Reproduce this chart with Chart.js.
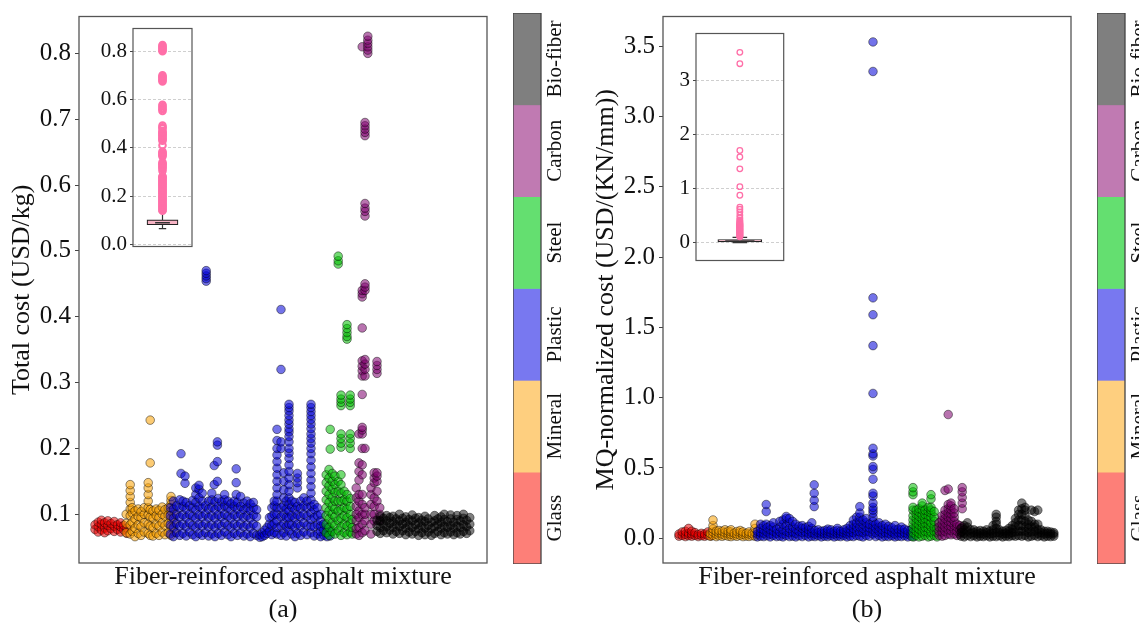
<!DOCTYPE html>
<html>
<head>
<meta charset="utf-8">
<script src="https://cdn.jsdelivr.net/npm/chart.js@4.4.1/dist/chart.umd.min.js"></script>
<style>
  html, body { margin: 0; padding: 0; background: #fff; overflow: hidden; }
  #wrap { position: relative; width: 1139px; height: 624px; }
  canvas { position: absolute; }
  .cbar { transform-origin: 0 0; transform: rotate(-90deg); }
</style>
</head>
<body>
<div id="wrap">
  <canvas id="mainA" width="500" height="624" style="left:0;top:0"></canvas>
  <canvas id="mainB" width="500" height="624" style="left:584px;top:0"></canvas>
  <canvas id="insetA" width="105" height="245" style="left:93px;top:15px"></canvas>
  <canvas id="insetB" width="133" height="254" style="left:656px;top:20px"></canvas>
  <canvas id="cbarA" class="cbar" width="551" height="62" style="left:513px;top:564px"></canvas>
  <canvas id="cbarB" class="cbar" width="551" height="62" style="left:1097px;top:564px"></canvas>
</div>
<script>
// fiber groups (sample order on the x axis)
const fiberTypes = ['Glass', 'Mineral', 'Plastic', 'Steel', 'Carbon', 'Bio-fiber'];
const colorbarColors = ['#fd7f78', '#fecf7f', '#7878f0', '#64df70', '#c07ab2', '#7f7f7f'];
const colorbarSpan = [1, 1, 1, 1, 1, 1];
const pointColors = ['rgba(235,0,0,0.55)', 'rgba(250,160,0,0.55)', 'rgba(0,0,215,0.55)',
                     'rgba(0,190,0,0.55)', 'rgba(125,0,110,0.55)', 'rgba(0,0,0,0.5)'];

// (a) total cost, columns of [sample index, [values]]
const glassCostA = [
  [40, [0.077, 0.084]], [48, [0.073, 0.081, 0.088]], [56, [0.076, 0.085, 0.091]],
  [64, [0.079, 0.087, 0.072]], [72, [0.075, 0.083, 0.09]], [80, [0.078, 0.086]],
  [88, [0.074, 0.082, 0.089]], [96, [0.077, 0.084]], [104, [0.073, 0.081, 0.087]],
  [112, [0.076, 0.083]], [120, [0.071, 0.079]]
];
const mineralCostA = [
  [118, [0.072, 0.086, 0.1]], [128, [0.07, 0.084, 0.098, 0.108, 0.118, 0.127, 0.136, 0.145]],
  [133, [0.074, 0.088, 0.102, 0.11]], [140, [0.066, 0.079, 0.093, 0.105]],
  [148, [0.071, 0.084, 0.097, 0.108]], [155, [0.068, 0.081, 0.095, 0.104]],
  [163, [0.073, 0.087, 0.1, 0.11]], [173, [0.071, 0.085, 0.099, 0.11, 0.12, 0.13, 0.14, 0.148]],
  [178, [0.068, 0.082, 0.096, 0.107, 0.178, 0.243]], [185, [0.067, 0.08, 0.094, 0.105]],
  [193, [0.071, 0.085, 0.098, 0.108]], [200, [0.068, 0.082, 0.095, 0.106]],
  [208, [0.073, 0.087, 0.1, 0.111]], [215, [0.069, 0.083, 0.097, 0.107]],
  [223, [0.072, 0.086, 0.099, 0.11]], [230, [0.068, 0.081, 0.094, 0.105, 0.115, 0.121, 0.127]],
  [238, [0.073, 0.087, 0.1]]
];
const plasticCostA = [
  [228, [0.07, 0.084, 0.098, 0.11]], [236, [0.066, 0.08, 0.094, 0.108, 0.12]],
  [244, [0.072, 0.086, 0.1, 0.113]], [252, [0.068, 0.082, 0.096, 0.11, 0.122]],
  [255, [0.162, 0.192]], [260, [0.071, 0.085, 0.099, 0.112, 0.12]], [265, [0.147, 0.158]],
  [268, [0.067, 0.081, 0.095, 0.108, 0.118]], [276, [0.073, 0.087, 0.1, 0.113]],
  [284, [0.069, 0.083, 0.097, 0.11, 0.121]], [292, [0.066, 0.08, 0.094, 0.107, 0.118, 0.13, 0.14]],
  [300, [0.071, 0.085, 0.099, 0.112, 0.125, 0.138, 0.144]],
  [308, [0.068, 0.082, 0.096, 0.109, 0.12, 0.132]], [316, [0.072, 0.086, 0.1, 0.113]],
  [318, [0.454, 0.458, 0.462, 0.466, 0.47]], [324, [0.067, 0.081, 0.095, 0.108, 0.12]],
  [332, [0.07, 0.084, 0.098, 0.111, 0.122, 0.132]], [338, [0.145, 0.174]],
  [340, [0.066, 0.08, 0.094, 0.107, 0.119]], [346, [0.15, 0.18, 0.205, 0.21]],
  [348, [0.071, 0.085, 0.099, 0.112, 0.124]], [356, [0.068, 0.082, 0.096, 0.109, 0.119]],
  [364, [0.073, 0.087, 0.1, 0.113, 0.122, 0.13]], [372, [0.069, 0.083, 0.097, 0.11, 0.12]],
  [380, [0.066, 0.08, 0.094, 0.107, 0.116]], [388, [0.071, 0.085, 0.099, 0.112, 0.12]],
  [393, [0.13, 0.148, 0.169]], [396, [0.068, 0.082, 0.096, 0.108, 0.118]],
  [404, [0.072, 0.086, 0.1, 0.112, 0.127]], [412, [0.067, 0.081, 0.095, 0.107, 0.117]],
  [420, [0.07, 0.084, 0.098, 0.11, 0.12]], [428, [0.066, 0.08, 0.094, 0.106, 0.116]],
  [436, [0.071, 0.085, 0.099, 0.11, 0.118]], [444, [0.068, 0.082, 0.096, 0.107]],
  [452, [0.065, 0.069]], [458, [0.066, 0.072]], [464, [0.068, 0.076]], [470, [0.071, 0.08]],
  [476, [0.074, 0.085, 0.095]], [482, [0.069, 0.083, 0.097, 0.11]],
  [488, [0.072, 0.086, 0.1, 0.113, 0.12]],
  [495, [0.07, 0.08, 0.09, 0.1, 0.11, 0.12, 0.13, 0.14, 0.15, 0.16, 0.17, 0.18, 0.19, 0.2, 0.212, 0.229]],
  [505, [0.068, 0.082, 0.096, 0.11, 0.2, 0.21, 0.32, 0.411]],
  [512, [0.072, 0.086, 0.1, 0.113, 0.125, 0.137, 0.15, 0.163]],
  [518, [0.067, 0.081, 0.095, 0.108, 0.12]],
  [525, [0.075, 0.085, 0.095, 0.105, 0.115, 0.125, 0.135, 0.145, 0.155, 0.165, 0.175, 0.185,
         0.193, 0.2, 0.21, 0.218, 0.225, 0.23, 0.237, 0.243, 0.25, 0.257, 0.262, 0.267]],
  [532, [0.07, 0.084, 0.098, 0.111, 0.12]], [540, [0.066, 0.08, 0.094, 0.107, 0.118]],
  [546, [0.071, 0.085, 0.099, 0.112, 0.14, 0.148, 0.155, 0.162]],
  [554, [0.068, 0.082, 0.096, 0.109, 0.12]], [562, [0.073, 0.087, 0.1, 0.113, 0.125]],
  [570, [0.069, 0.083, 0.097, 0.11, 0.12]],
  [580, [0.072, 0.082, 0.092, 0.102, 0.112, 0.122, 0.132, 0.142, 0.152, 0.162, 0.172, 0.182,
         0.192, 0.2, 0.208, 0.215, 0.222, 0.23, 0.237, 0.244, 0.25, 0.256, 0.262, 0.267]],
  [588, [0.067, 0.081, 0.095, 0.107, 0.115]], [596, [0.07, 0.084, 0.098, 0.11]],
  [604, [0.066, 0.074, 0.082, 0.09, 0.1]], [612, [0.068, 0.076, 0.085]],
  [620, [0.066, 0.072, 0.08]], [628, [0.067, 0.074]]
];
const steelCostA = [
  [618, [0.072, 0.085, 0.098, 0.11, 0.122, 0.135, 0.148, 0.16]],
  [625, [0.068, 0.08, 0.093, 0.105, 0.118, 0.13, 0.143, 0.155, 0.168]],
  [628, [0.199, 0.229]],
  [633, [0.074, 0.087, 0.1, 0.112, 0.125, 0.138, 0.15, 0.162]],
  [640, [0.07, 0.083, 0.096, 0.108, 0.12, 0.133, 0.145, 0.158]],
  [648, [0.075, 0.09, 0.105, 0.12, 0.135, 0.15, 0.48, 0.485, 0.492]],
  [655, [0.068, 0.081, 0.094, 0.107, 0.12, 0.132, 0.145, 0.16, 0.202, 0.208, 0.215, 0.222,
         0.265, 0.27, 0.275, 0.281]],
  [663, [0.072, 0.085, 0.098, 0.11, 0.122, 0.135]],
  [670, [0.069, 0.082, 0.095, 0.108, 0.12, 0.13, 0.366, 0.37, 0.376, 0.382, 0.388]],
  [678, [0.073, 0.086, 0.1, 0.112, 0.124, 0.2, 0.208, 0.215, 0.222, 0.265, 0.27, 0.275, 0.281]],
  [683, [0.07, 0.08, 0.092]]
];
const carbonCostA = [
  [693, [0.07, 0.078, 0.09, 0.1, 0.112, 0.125, 0.14]],
  [700, [0.068, 0.08, 0.095, 0.105, 0.12, 0.13, 0.152, 0.165, 0.178, 0.222]],
  [708, [0.072, 0.085, 0.1, 0.115, 0.13, 0.16, 0.175, 0.2, 0.222, 0.228, 0.232, 0.282, 0.31,
         0.318, 0.325, 0.333, 0.383, 0.43, 0.435, 0.44, 0.81]],
  [715, [0.075, 0.09, 0.1, 0.11, 0.2, 0.31, 0.32, 0.328, 0.335, 0.44, 0.445, 0.45, 0.553, 0.56,
         0.565, 0.572, 0.675, 0.68, 0.685, 0.69, 0.695]],
  [722, [0.8, 0.805, 0.81, 0.815, 0.82, 0.826]],
  [730, [0.07, 0.085, 0.1, 0.115, 0.13, 0.14]],
  [738, [0.09, 0.1, 0.112, 0.125, 0.148, 0.155, 0.163]],
  [745, [0.12, 0.135, 0.15, 0.158, 0.163, 0.314, 0.32, 0.326, 0.332]],
  [752, [0.09, 0.1, 0.11]]
];
const bioCostA = [
  [745, [0.074, 0.083, 0.091]], [753, [0.071, 0.08, 0.09, 0.097]], [761, [0.075, 0.085, 0.094]],
  [769, [0.072, 0.081, 0.09, 0.098]], [777, [0.076, 0.086, 0.095]], [785, [0.07, 0.08, 0.089, 0.097]],
  [793, [0.074, 0.084, 0.093]], [801, [0.071, 0.081, 0.09, 0.1]], [809, [0.075, 0.085, 0.094]],
  [817, [0.069, 0.079, 0.088, 0.096]], [825, [0.073, 0.083, 0.092]], [833, [0.07, 0.08, 0.09, 0.099]],
  [841, [0.074, 0.084, 0.094]], [849, [0.068, 0.078, 0.087, 0.095]], [857, [0.072, 0.082, 0.091]],
  [865, [0.069, 0.079, 0.089, 0.097]], [873, [0.073, 0.083, 0.093]], [881, [0.068, 0.078, 0.088]],
  [889, [0.071, 0.081, 0.09, 0.098]], [897, [0.074, 0.084, 0.093]], [905, [0.069, 0.079, 0.088, 0.096]],
  [913, [0.072, 0.082, 0.092, 0.1]], [921, [0.07, 0.08, 0.089]], [929, [0.073, 0.083, 0.093, 0.099]],
  [937, [0.069, 0.079, 0.088]], [945, [0.072, 0.082, 0.092, 0.098]], [953, [0.07, 0.08, 0.09]],
  [961, [0.074, 0.084, 0.094, 0.1]], [969, [0.071, 0.081, 0.091]], [977, [0.075, 0.085, 0.095]]
];

// (b) MQ-normalized cost
const glassMqB = [
  [40, [0.015, 0.03]], [48, [0.02, 0.045]], [56, [0.012, 0.028, 0.05]], [64, [0.018, 0.035, 0.07]],
  [72, [0.015, 0.03, 0.05]], [80, [0.02, 0.04]], [88, [0.012, 0.026]], [96, [0.018, 0.035]],
  [104, [0.014, 0.03]], [112, [0.02, 0.045]], [120, [0.016, 0.03]]
];
const mineralMqB = [
  [118, [0.015, 0.035]], [125, [0.02, 0.045, 0.065, 0.09, 0.13]], [133, [0.012, 0.03, 0.05]],
  [140, [0.018, 0.038, 0.055]], [148, [0.014, 0.03, 0.05]], [155, [0.02, 0.04, 0.06]],
  [163, [0.015, 0.032, 0.05]], [170, [0.012, 0.028, 0.045, 0.06]], [178, [0.018, 0.036]],
  [185, [0.014, 0.03, 0.048]], [193, [0.02, 0.04, 0.055]], [200, [0.012, 0.028, 0.045]],
  [208, [0.016, 0.034]], [215, [0.013, 0.03, 0.045]], [223, [0.018, 0.035]],
  [230, [0.015, 0.04, 0.07, 0.1]]
];
const plasticMqB = [
  [236, [0.01, 0.03, 0.05]], [244, [0.015, 0.04, 0.07, 0.1]], [252, [0.012, 0.035, 0.06, 0.09]],
  [258, [0.1, 0.19, 0.24]], [260, [0.018, 0.045, 0.075]], [268, [0.01, 0.03, 0.06, 0.09]],
  [276, [0.02, 0.05, 0.08, 0.11]], [284, [0.012, 0.035, 0.065]], [292, [0.015, 0.045, 0.08, 0.12]],
  [300, [0.01, 0.03, 0.06, 0.1, 0.13]], [308, [0.02, 0.05, 0.09, 0.14, 0.155]],
  [316, [0.012, 0.04, 0.07, 0.11, 0.14]], [324, [0.015, 0.045, 0.08, 0.12]],
  [332, [0.01, 0.035, 0.065, 0.1]], [340, [0.018, 0.05, 0.085]], [348, [0.012, 0.04, 0.07, 0.09]],
  [356, [0.02, 0.045, 0.075]], [364, [0.01, 0.035, 0.06, 0.085]], [372, [0.015, 0.04, 0.07, 0.11]],
  [378, [0.225, 0.27, 0.32, 0.38]], [380, [0.012, 0.03, 0.055]], [388, [0.018, 0.04, 0.06]],
  [396, [0.01, 0.03, 0.05]], [404, [0.015, 0.035, 0.055]], [412, [0.012, 0.03, 0.05, 0.065]],
  [420, [0.018, 0.038, 0.06]], [428, [0.01, 0.03, 0.05]], [436, [0.015, 0.035, 0.055, 0.07]],
  [444, [0.012, 0.03, 0.05]], [452, [0.018, 0.04, 0.06]], [460, [0.01, 0.03, 0.05, 0.07]],
  [468, [0.015, 0.04, 0.065, 0.09]], [476, [0.012, 0.04, 0.07, 0.1, 0.13]],
  [484, [0.02, 0.05, 0.08, 0.11, 0.15]], [492, [0.015, 0.045, 0.08, 0.12, 0.15, 0.18, 0.225]],
  [500, [0.01, 0.04, 0.07, 0.1, 0.13]], [508, [0.02, 0.05, 0.08, 0.11, 0.14]],
  [516, [0.015, 0.045, 0.075, 0.1]],
  [525, [0.03, 0.06, 0.09, 0.12, 0.15, 0.18, 0.2, 0.22, 0.25, 0.3, 0.32, 0.42, 0.49, 0.51, 0.585,
         0.6, 0.64, 1.03, 1.37, 1.59, 1.71, 3.32, 3.53]],
  [532, [0.012, 0.04, 0.07, 0.1]], [540, [0.02, 0.05, 0.08, 0.11]], [548, [0.01, 0.035, 0.06, 0.09]],
  [556, [0.015, 0.04, 0.07, 0.1]], [564, [0.012, 0.035, 0.06, 0.085]], [572, [0.018, 0.045, 0.075]],
  [580, [0.01, 0.03, 0.06, 0.09]], [588, [0.015, 0.04, 0.065]], [596, [0.012, 0.035, 0.06, 0.08]],
  [604, [0.018, 0.04, 0.065]], [612, [0.01, 0.03, 0.055]], [620, [0.015, 0.035, 0.06]],
  [628, [0.012, 0.03, 0.05]]
];
const steelMqB = [
  [625, [0.01, 0.04, 0.07, 0.1, 0.13, 0.16, 0.2, 0.22, 0.31, 0.33, 0.36]],
  [633, [0.02, 0.05, 0.08, 0.11, 0.14, 0.17, 0.2]],
  [640, [0.01, 0.035, 0.065, 0.095, 0.125, 0.155, 0.185, 0.21]],
  [648, [0.015, 0.045, 0.075, 0.105, 0.135, 0.165, 0.2, 0.23, 0.25]],
  [655, [0.02, 0.05, 0.08, 0.11, 0.14, 0.17, 0.2]],
  [663, [0.01, 0.04, 0.07, 0.1, 0.13, 0.16, 0.19, 0.22]],
  [670, [0.015, 0.045, 0.08, 0.11, 0.15, 0.18, 0.2, 0.22, 0.28, 0.31]],
  [678, [0.02, 0.05, 0.08, 0.12, 0.15, 0.19]],
  [685, [0.01, 0.04, 0.07]]
];
const carbonMqB = [
  [690, [0.02, 0.05, 0.08, 0.11]], [698, [0.015, 0.045, 0.075, 0.1, 0.13, 0.16]],
  [705, [0.02, 0.05, 0.08, 0.11, 0.14, 0.17, 0.2, 0.34]],
  [713, [0.03, 0.06, 0.09, 0.12, 0.15, 0.18, 0.21, 0.24, 0.35, 0.88]],
  [720, [0.025, 0.055, 0.085, 0.115, 0.145, 0.175, 0.205, 0.23, 0.25]],
  [728, [0.03, 0.06, 0.09, 0.12, 0.15, 0.18, 0.21]], [735, [0.02, 0.05, 0.08, 0.1]],
  [742, [0.03, 0.06, 0.09]], [748, [0.05, 0.08, 0.21, 0.25, 0.29, 0.33, 0.36]]
];
const bioMqB = [
  [745, [0.015, 0.04, 0.07]], [753, [0.01, 0.035, 0.06, 0.09]], [761, [0.02, 0.05, 0.08, 0.11]],
  [769, [0.012, 0.035, 0.06]], [777, [0.018, 0.04, 0.06]], [785, [0.01, 0.03, 0.05]],
  [793, [0.015, 0.035, 0.055]], [801, [0.012, 0.03, 0.05]], [809, [0.018, 0.04, 0.06]],
  [817, [0.01, 0.03, 0.05]], [825, [0.015, 0.035, 0.06, 0.09]],
  [833, [0.012, 0.04, 0.07, 0.1, 0.12, 0.15, 0.17]], [841, [0.018, 0.04, 0.06]],
  [849, [0.01, 0.03, 0.05]], [857, [0.015, 0.035, 0.055]], [865, [0.012, 0.03, 0.05, 0.07]],
  [873, [0.018, 0.04, 0.065, 0.09]], [881, [0.015, 0.045, 0.08, 0.11, 0.14]],
  [889, [0.02, 0.05, 0.09, 0.13, 0.17, 0.2]], [897, [0.015, 0.05, 0.09, 0.13, 0.17, 0.21, 0.25]],
  [905, [0.02, 0.05, 0.08, 0.12, 0.16, 0.2, 0.22]], [913, [0.01, 0.04, 0.07, 0.1, 0.13]],
  [921, [0.015, 0.045, 0.08, 0.12, 0.2]], [929, [0.02, 0.05, 0.08, 0.1, 0.19]],
  [937, [0.012, 0.035, 0.06, 0.1, 0.2]], [945, [0.018, 0.04, 0.06]], [953, [0.01, 0.03, 0.05]],
  [961, [0.015, 0.035, 0.05]], [969, [0.012, 0.03, 0.045]], [977, [0.015, 0.03, 0.04]]
];

// axis ticks
const yTicksA = [0.1, 0.2, 0.3, 0.4, 0.5, 0.6, 0.7, 0.8];
const yTicksB = [0, 0.5, 1, 1.5, 2, 2.5, 3, 3.5];
const insetTicksA = [0, 0.2, 0.4, 0.6, 0.8];
const insetTicksB = [0, 1, 2, 3];

// box plot stats: [lower whisker, q1, median, q3, upper whisker]
const boxStatsA = [0.066, 0.082, 0.09, 0.102, 0.137];
const boxStatsB = [0.0, 0.015, 0.03, 0.06, 0.1];
const outliersA = [0.14, 0.145, 0.15, 0.155, 0.16, 0.165, 0.17, 0.175, 0.18, 0.185, 0.19, 0.195,
  0.2, 0.205, 0.21, 0.215, 0.22, 0.225, 0.23, 0.235, 0.24, 0.245, 0.25, 0.255, 0.26, 0.265,
  0.27, 0.275, 0.28, 0.283, 0.305, 0.315, 0.32, 0.325, 0.33, 0.335, 0.34, 0.365, 0.37, 0.375,
  0.38, 0.385, 0.411, 0.43, 0.435, 0.44, 0.445, 0.45, 0.455, 0.46, 0.465, 0.47, 0.48, 0.485,
  0.492, 0.553, 0.56, 0.565, 0.572, 0.578, 0.675, 0.68, 0.685, 0.69, 0.695, 0.7, 0.8, 0.805,
  0.81, 0.815, 0.82, 0.826];
const outliersB = [0.11, 0.12, 0.13, 0.14, 0.15, 0.16, 0.17, 0.18, 0.19, 0.2, 0.21, 0.22, 0.23,
  0.24, 0.25, 0.26, 0.27, 0.28, 0.29, 0.3, 0.31, 0.32, 0.33, 0.34, 0.35, 0.36, 0.38, 0.4, 0.42,
  0.46, 0.51, 0.57, 0.62, 0.66, 0.88, 1.04, 1.37, 1.59, 1.71, 3.32, 3.53];

Chart.defaults.font.family = "'Liberation Serif', 'DejaVu Serif', serif";
Chart.defaults.color = '#111';

const SERIF = "'Liberation Serif', 'DejaVu Serif', serif";

// plain box round the plotting area
const framePlugin = {
  id: 'frame',
  afterDraw(chart, args, opts) {
    const { ctx, chartArea } = chart;
    ctx.save();
    ctx.strokeStyle = opts.color || '#555';
    ctx.lineWidth = opts.width || 1.2;
    ctx.strokeRect(chartArea.left, chartArea.top, chartArea.right - chartArea.left, chartArea.bottom - chartArea.top);
    ctx.restore();
  }
};

function toPoints(cols) {
  const pts = [];
  cols.forEach(([x, ys]) => ys.forEach(y => pts.push({ x: x, y: y })));
  return pts;
}

function createMainChart(canvasId, groups, yMin, yMax, yTicks, decimals, yTitle, tag) {
  const ctx = document.getElementById(canvasId).getContext('2d');
  const datasets = groups.map((cols, i) => ({
    label: fiberTypes[i],
    data: toPoints(cols),
    backgroundColor: pointColors[i],
    borderColor: 'rgba(0,0,0,0.55)',
    borderWidth: 0.8,
    pointRadius: 4.3,
    pointHoverRadius: 4.3,
    order: groups.length - i
  }));
  return new Chart(ctx, {
    type: 'scatter',
    data: { datasets },
    options: {
      responsive: false,
      animation: false,
      devicePixelRatio: 1,
      events: [],
      layout: { padding: { left: 0, right: 13, top: 13, bottom: 0 } },
      scales: {
        x: {
          type: 'linear', min: 0, max: 1020,
          ticks: { display: false },
          grid: { display: false },
          border: { display: false },
          title: {
            display: true,
            text: ['Fiber-reinforced asphalt mixture', tag],
            font: { family: SERIF, size: 26, lineHeight: '33px' },
            color: '#111',
            padding: { top: 0, bottom: -3 }
          },
          afterFit(scale) { scale.height = 61; }
        },
        y: {
          min: yMin, max: yMax,
          afterBuildTicks(scale) { scale.ticks = yTicks.map(v => ({ value: v })); },
          ticks: {
            callback: v => Number(v).toFixed(decimals),
            font: { family: SERIF, size: 25, lineHeight: 1 },
            color: '#111',
            padding: 4
          },
          grid: { display: true, drawOnChartArea: false, drawTicks: true, tickLength: 4, tickColor: '#444', tickWidth: 1 },
          border: { display: false },
          title: {
            display: true,
            text: yTitle,
            font: { family: SERIF, size: 26 },
            color: '#111',
            padding: { top: 7, bottom: 0 }
          },
          afterFit(scale) { scale.width = 79; }
        }
      },
      plugins: {
        legend: { display: false },
        tooltip: { enabled: false },
        frame: { color: '#555', width: 1.3 }
      }
    },
    plugins: [framePlugin]
  });
}

function createInset(canvasId, stats, outliers, yMin, yMax, yTicks, decimals, boxPx, markerRadius, markerWidth) {
  const ctx = document.getElementById(canvasId).getContext('2d');
  const [lo, q1, med, q3, hi] = stats;
  const line = (pts, w) => ({
    type: 'line', data: pts, borderColor: '#333', borderWidth: w,
    pointRadius: 0, fill: false, order: 2
  });
  return new Chart(ctx, {
    type: 'scatter',
    data: {
      datasets: [
        {
          type: 'scatter',
          data: outliers.map(v => ({ x: 1, y: v })),
          backgroundColor: 'rgba(255,255,255,0)',
          borderColor: '#ff6fa8',
          borderWidth: markerWidth,
          pointRadius: markerRadius,
          order: 1
        },
        line([{ x: 1, y: lo }, { x: 1, y: q1 }], 1.2),
        line([{ x: 1, y: q3 }, { x: 1, y: hi }], 1.2),
        line([{ x: 0.75, y: lo }, { x: 1.25, y: lo }], 1.2),
        line([{ x: 0.75, y: hi }, { x: 1.25, y: hi }], 1.2),
        line([{ x: 0.5, y: med }, { x: 1.5, y: med }], 1.5),
        {
          type: 'bar',
          data: [{ x: 1, y: [q1, q3] }],
          backgroundColor: '#f6b3c4',
          borderColor: '#222',
          borderWidth: 1.2,
          borderSkipped: false,
          barThickness: boxPx,
          order: 3
        }
      ]
    },
    options: {
      responsive: false,
      animation: false,
      devicePixelRatio: 1,
      events: [],
      layout: { padding: { left: 0, right: 3, top: 12, bottom: 12 } },
      scales: {
        x: { type: 'linear', min: 0, max: 2, display: false },
        y: {
          min: yMin, max: yMax,
          afterBuildTicks(scale) { scale.ticks = yTicks.map(v => ({ value: v })); },
          ticks: {
            callback: v => Number(v).toFixed(decimals),
            font: { family: SERIF, size: 21, lineHeight: 1 },
            color: '#111',
            padding: 3
          },
          grid: {
            display: true, color: '#cfcfcf', lineWidth: 1,
            drawTicks: true, tickLength: 3, tickColor: '#444', tickBorderDash: []
          },
          border: { display: false, dash: [3, 2] },
          afterFit(scale) { scale.width = 40; }
        }
      },
      plugins: {
        legend: { display: false },
        tooltip: { enabled: false },
        frame: { color: '#555', width: 1.2 }
      }
    },
    plugins: [framePlugin]
  });
}

// colour strip, drawn as a bar row and turned upright with CSS
function createColorbar(canvasId) {
  const ctx = document.getElementById(canvasId).getContext('2d');
  return new Chart(ctx, {
    type: 'bar',
    data: {
      labels: fiberTypes,
      datasets: [{
        data: colorbarSpan,
        backgroundColor: colorbarColors,
        borderWidth: 0,
        barPercentage: 1,
        categoryPercentage: 1
      }]
    },
    options: {
      responsive: false,
      animation: false,
      devicePixelRatio: 1,
      events: [],
      layout: { padding: 0 },
      scales: {
        x: {
          ticks: { font: { family: SERIF, size: 21 }, color: '#111', padding: 2, maxRotation: 0, minRotation: 0 },
          grid: { display: false, drawTicks: false },
          border: { display: false },
          afterFit(scale) { scale.height = 34; }
        },
        y: { min: 0, max: 1, display: false }
      },
      plugins: {
        legend: { display: false },
        tooltip: { enabled: false },
        frame: { color: '#444', width: 1.3 }
      }
    },
    plugins: [framePlugin]
  });
}

createMainChart('mainA', [glassCostA, mineralCostA, plasticCostA, steelCostA, carbonCostA, bioCostA],
  0.026, 0.856, yTicksA, 1, 'Total cost (USD/kg)', '(a)');
createMainChart('mainB', [glassMqB, mineralMqB, plasticMqB, steelMqB, carbonMqB, bioMqB],
  -0.176, 3.711, yTicksB, 1, 'MQ-normalized cost (USD/(KN/mm))', '(b)');
createInset('insetA', boxStatsA, outliersA, -0.008, 0.894, insetTicksA, 1, 31, 3.3, 2);
createInset('insetB', boxStatsB, outliersB, -0.33, 3.88, insetTicksB, 0, 44, 2.8, 1.3);
createColorbar('cbarA');
createColorbar('cbarB');
</script>
</body>
</html>
